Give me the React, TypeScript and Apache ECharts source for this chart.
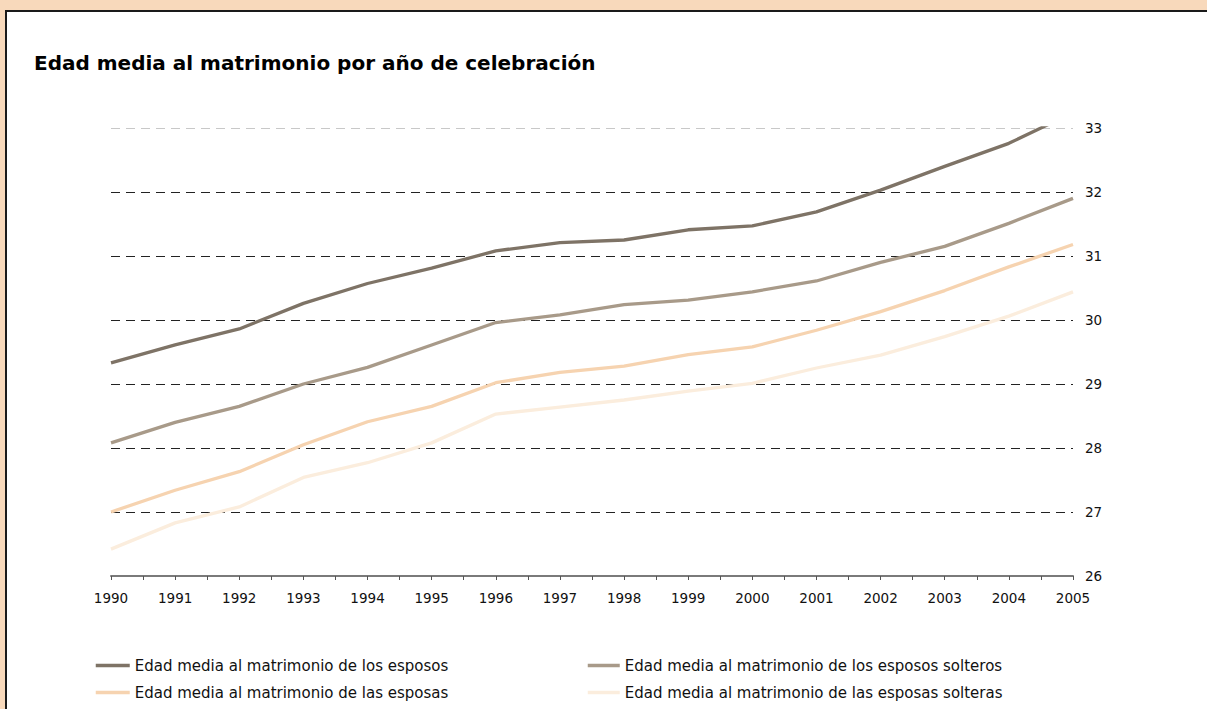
import React, { useEffect, useRef } from "react";
import * as echarts from "echarts";

const years = [1990, 1991, 1992, 1993, 1994, 1995, 1996, 1997, 1998, 1999, 2000, 2001, 2002, 2003, 2004, 2005];
const esposos = [29.33, 29.61, 29.86, 30.26, 30.57, 30.81, 31.08, 31.21, 31.25, 31.41, 31.47, 31.69, 32.03, 32.40, 32.76, 33.24];
const esposos_solteros = [28.08, 28.40, 28.65, 29.00, 29.26, 29.61, 29.96, 30.08, 30.24, 30.31, 30.44, 30.61, 30.90, 31.15, 31.51, 31.90];
const esposas = [27.00, 27.34, 27.63, 28.05, 28.41, 28.65, 29.02, 29.18, 29.28, 29.46, 29.58, 29.84, 30.13, 30.46, 30.83, 31.18];
const esposas_solteras = [26.42, 26.83, 27.08, 27.54, 27.77, 28.08, 28.53, 28.64, 28.75, 28.89, 29.01, 29.25, 29.45, 29.74, 30.06, 30.44];

const names = [
  "Edad media al matrimonio de los esposos",
  "Edad media al matrimonio de los esposos solteros",
  "Edad media al matrimonio de las esposas",
  "Edad media al matrimonio de las esposas solteras",
];
const colors = ["#7e7366", "#a89a89", "#f6d3b0", "#fbeddd"];
const title = "Edad media al matrimonio por año de celebración";

const FONT = "'DejaVu Sans', Verdana, sans-serif";

export default function App() {
  const ref = useRef<HTMLDivElement>(null);
  useEffect(() => {
    if (!ref.current) return;
    const chart = echarts.init(ref.current, undefined, { renderer: "svg" });
    const seriesData = [esposos, esposos_solteros, esposas, esposas_solteras];
    const legendBase = {
      orient: "vertical",
      top: 653,
      itemHeight: 14,
      itemGap: 12,
      itemStyle: { opacity: 0 },
      lineStyle: { width: 3.5 },
      textStyle: { fontFamily: FONT, fontSize: 15, color: "#111" },
    };
    chart.setOption({
      animation: false,
      backgroundColor: "transparent",
      title: {
        text: title,
        left: 29,
        top: 48,
        textStyle: { fontFamily: FONT, fontSize: 20, fontWeight: "bold", color: "#000" },
      },
      grid: { left: 111, right: 134, top: 128, bottom: 133, containLabel: false },
      legend: [
        { ...legendBase, data: [names[0], names[2]], left: 89, itemWidth: 34 },
        { ...legendBase, data: [names[1], names[3]], left: 581, itemWidth: 32 },
      ],
      xAxis: {
        type: "value",
        min: 1990,
        max: 2005,
        interval: 1,
        axisLine: { show: true, lineStyle: { color: "#7a7a7a", width: 2 } },
        axisTick: { show: true, length: 4, lineStyle: { color: "#555", width: 1 } },
        minorTick: { show: true, splitNumber: 2, length: 4, lineStyle: { color: "#555", width: 1 } },
        splitLine: { show: false },
        axisLabel: {
          margin: 15,
          fontFamily: FONT,
          fontSize: 13.5,
          color: "#111",
          formatter: (v: number) => String(v),
        },
      },
      yAxis: {
        type: "value",
        position: "right",
        min: 26,
        max: 33,
        interval: 1,
        axisLine: { show: false },
        axisTick: { show: false },
        axisLabel: { margin: 12, fontFamily: FONT, fontSize: 13.5, color: "#111" },
        splitLine: {
          show: true,
          lineStyle: {
            color: ["#222", "#222", "#222", "#222", "#222", "#222", "#222", "#c8c8c8"],
            type: [9, 6],
            width: 1,
          },
        },
      },
      series: seriesData.map((vals, i) => ({
        name: names[i],
        type: "line",
        data: years.map((y, j) => [y, vals[j]]),
        showSymbol: false,
        symbol: "none",
        clip: true,
        lineStyle: { color: colors[i], width: 3.3 },
        itemStyle: { color: colors[i] },
        z: 5 - i,
      })),
    });
    return () => chart.dispose();
  }, []);

  return (
    <div style={{ position: "absolute", left: 0, top: 0, width: 1207, height: 709, background: "#f8d9bb", overflow: "hidden" }}>
      <div
        style={{
          position: "absolute",
          left: 5,
          top: 10,
          width: 1300,
          height: 800,
          background: "#ffffff",
          borderLeft: "2px solid #1a1a1a",
          borderTop: "2px solid #1a1a1a",
        }}
      />
      <div ref={ref} style={{ position: "absolute", left: 0, top: 0, width: 1207, height: 709 }} />
    </div>
  );
}
